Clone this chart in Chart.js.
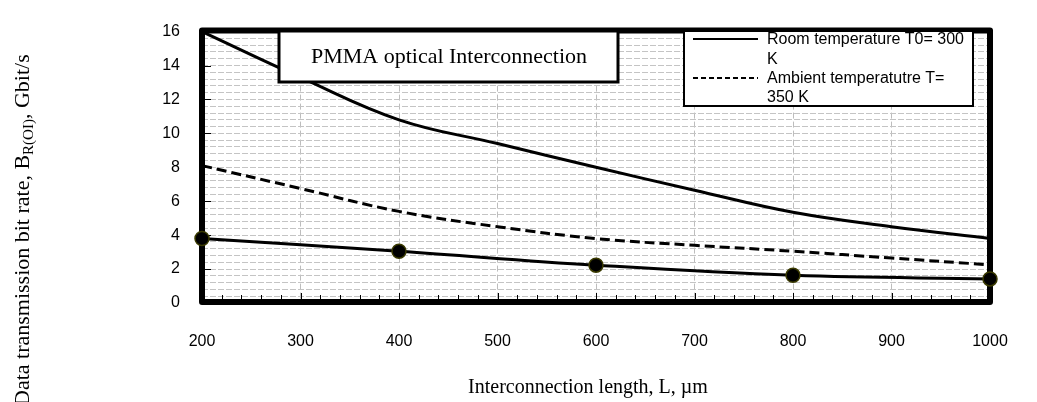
<!DOCTYPE html>
<html>
<head>
<meta charset="utf-8">
<script src="https://cdn.jsdelivr.net/npm/chart.js@4/dist/chart.umd.min.js"></script>
<style>
  html, body { margin: 0; padding: 0; background: #fff; }
  #wrap { width: 1037px; height: 402px; }
</style>
</head>
<body>
<div id="wrap"><canvas id="c" width="1037" height="402"></canvas></div>
<script>
// ---- data ----
const lengths = [200, 300, 400, 500, 600, 700, 800, 900, 1000];   // Interconnection length, µm
const roomTemp = [16.0, 13.3, 10.8, 9.4, 8.0, 6.65, 5.35, 4.5, 3.8];     // T0 = 300 K
const ambientTemp = [8.1, 6.75, 5.4, 4.5, 3.8, 3.4, 3.05, 2.65, 2.25];   // T = 350 K
const markedLengths = [200, 400, 600, 800, 1000];
const pmmaPoints = [3.8, 3.05, 2.23, 1.63, 1.42];                        // marked series
const xTickLabels = ['200', '300', '400', '500', '600', '700', '800', '900', '1000'];
const yTickLabels = ['0', '2', '4', '6', '8', '10', '12', '14', '16'];
const legendRoom = ['Room temperature T0= 300', 'K'];
const legendAmbient = ['Ambient temperatutre T=', '350 K'];
const boxTitle = 'PMMA optical Interconnection';
const xTitle = 'Interconnection length, L, \u00b5m';
const yTitleMain = 'Data transmission bit rate, B';
const yTitleSub = 'R(OI)';
const yTitleEnd = ', Gbit/s';

const toXY = (xs, arr) => xs.map((x, i) => ({ x: x, y: arr[i] }));

const decor = {
  id: 'decor',
  beforeDatasetsDraw(chart) {
    const { ctx, chartArea: a, scales } = chart;
    ctx.save();
    ctx.strokeStyle = '#000';
    ctx.lineWidth = 1;
    // inner tick marks on x axis
    for (let v = 220; v < 1000; v += 20) {
      const px = Math.round(scales.x.getPixelForValue(v)) + 0.5;
      const len = (v % 100 === 0) ? 8 : 6;
      ctx.beginPath();
      ctx.moveTo(px, a.bottom - 2);
      ctx.lineTo(px, a.bottom - 2 - len);
      ctx.stroke();
    }
    // inner tick marks on y axis
    for (let k = 1; k < 8; k++) {
      const py = Math.round(scales.y.getPixelForValue(k * 2)) + 0.5;
      ctx.beginPath();
      ctx.moveTo(a.left + 2, py);
      ctx.lineTo(a.left + 9, py);
      ctx.stroke();
    }
    // thick frame
    ctx.lineWidth = 6;
    ctx.lineJoin = 'round';
    ctx.strokeRect(a.left, a.top - 1, a.right - a.left, a.bottom - a.top);
    ctx.restore();
  },
  afterDatasetsDraw(chart) {
    const { ctx } = chart;
    ctx.save();
    // title box
    ctx.fillStyle = '#fff';
    ctx.fillRect(279, 31, 339, 51);
    ctx.strokeStyle = '#000';
    ctx.lineWidth = 3;
    ctx.strokeRect(279, 31, 339, 51);
    ctx.fillStyle = '#000';
    ctx.font = '22px "Liberation Serif", "Times New Roman", serif';
    ctx.textAlign = 'center';
    ctx.textBaseline = 'middle';
    ctx.fillText(boxTitle, 449, 57);

    // legend box
    ctx.fillStyle = '#fff';
    ctx.fillRect(684, 31, 289, 75);
    ctx.lineWidth = 2;
    ctx.strokeRect(684, 31, 289, 75);
    ctx.lineWidth = 2;
    ctx.beginPath();
    ctx.moveTo(693, 39); ctx.lineTo(758, 39);
    ctx.stroke();
    ctx.setLineDash([5, 3]);
    ctx.beginPath();
    ctx.moveTo(693, 78); ctx.lineTo(758, 78);
    ctx.stroke();
    ctx.setLineDash([]);
    ctx.fillStyle = '#000';
    ctx.font = '16px "Liberation Sans", Arial, sans-serif';
    ctx.textAlign = 'left';
    ctx.textBaseline = 'middle';
    ctx.fillText(legendRoom[0], 767, 40, 203);
    ctx.fillText(legendRoom[1], 767, 60);
    ctx.fillText(legendAmbient[0], 767, 79);
    ctx.fillText(legendAmbient[1], 767, 98);
    ctx.restore();
  },
  afterDraw(chart) {
    const { ctx } = chart;
    ctx.save();
    ctx.fillStyle = '#000';
    // x title
    ctx.font = '20px "Liberation Serif", "Times New Roman", serif';
    ctx.textAlign = 'center';
    ctx.textBaseline = 'middle';
    ctx.fillText(xTitle, 588, 388);
    // y title (rotated, with subscript)
    ctx.translate(29, 406);
    ctx.rotate(-Math.PI / 2);
    ctx.textAlign = 'left';
    ctx.textBaseline = 'alphabetic';
    ctx.font = '22px "Liberation Serif", "Times New Roman", serif';
    let x = 0;
    ctx.fillText(yTitleMain, x, 0);
    x += ctx.measureText(yTitleMain).width;
    ctx.font = '15px "Liberation Serif", "Times New Roman", serif';
    ctx.fillText(yTitleSub, x, 4);
    x += ctx.measureText(yTitleSub).width;
    ctx.font = '22px "Liberation Serif", "Times New Roman", serif';
    ctx.fillText(yTitleEnd, x, 0);
    ctx.restore();
  }
};

new Chart(document.getElementById('c'), {
  type: 'line',
  data: {
    datasets: [
      {
        label: 'Room temperature T0= 300 K',
        data: toXY(lengths, roomTemp),
        borderColor: '#000', borderWidth: 3,
        pointRadius: 0, tension: 0.4, clip: false
      },
      {
        label: 'Ambient temperatutre T= 350 K',
        data: toXY(lengths, ambientTemp),
        borderColor: '#000', borderWidth: 3, borderDash: [10, 5],
        pointRadius: 0, tension: 0.4, clip: false
      },
      {
        label: 'PMMA',
        data: toXY(markedLengths, pmmaPoints),
        borderColor: '#000', borderWidth: 3,
        pointRadius: 7, pointBackgroundColor: '#000',
        pointBorderColor: '#3a3a00', pointBorderWidth: 1.5,
        tension: 0.4, clip: false
      }
    ]
  },
  options: {
    responsive: false,
    animation: false,
    devicePixelRatio: 1,
    layout: { padding: { top: 10, right: 47, bottom: 0, left: 0 } },
    plugins: { legend: { display: false }, tooltip: { enabled: false } },
    scales: {
      x: {
        type: 'linear', min: 200, max: 1000,
        ticks: {
          stepSize: 100, autoSkip: false, maxRotation: 0, padding: 29,
          color: '#000', font: { family: '"Liberation Sans", Arial, sans-serif', size: 16 },
          callback: (v) => xTickLabels[Math.round((v - 200) / 100)]
        },
        grid: { color: '#bdbdbd', lineWidth: 1, drawTicks: false },
        border: { display: false, dash: [6, 3] },
        afterFit: (s) => { s.height = 99; }
      },
      y: {
        min: 0, max: 16,
        ticks: {
          stepSize: 0.4, autoSkip: false, padding: 22,
          color: '#000', font: { family: '"Liberation Sans", Arial, sans-serif', size: 16 },
          callback: (v) => {
            const k = Math.round(v / 2);
            return Math.abs(v - 2 * k) < 1e-6 ? yTickLabels[k] : '';
          }
        },
        grid: { color: '#c4c4c4', lineWidth: 1, drawTicks: false },
        border: { display: false, dash: [6, 2] },
        afterFit: (s) => { s.width = 202; }
      }
    }
  },
  plugins: [decor]
});
</script>
</body>
</html>
